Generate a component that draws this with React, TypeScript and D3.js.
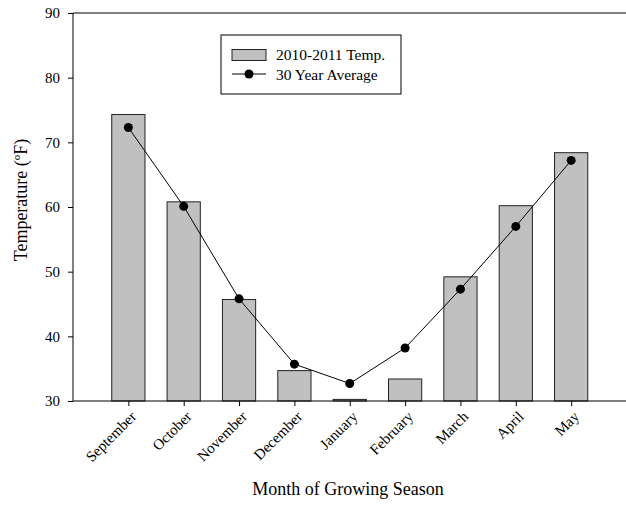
import * as d3 from "d3";
import { useEffect, useRef } from "react";

const months = ["September", "October", "November", "December", "January", "February", "March", "April", "May"];
const temps = [74.3, 60.8, 45.7, 34.7, 30.25, 33.4, 49.2, 60.2, 68.4];
const averages = [72.3, 60.1, 45.8, 35.7, 32.7, 38.2, 47.3, 57.0, 67.2];
const yTicks = [30, 40, 50, 60, 70, 80, 90];

const App = () => {
  const ref = useRef<SVGSVGElement>(null);

  useEffect(() => {
    const width = 626,
      height = 511;
    const left = 73,
      right = 626.5,
      top = 13,
      bottom = 401;
    const font = "'Liberation Serif', 'Times New Roman', serif";

    const svg = d3.select(ref.current);
    svg.selectAll("*").remove();
    svg.attr("width", width).attr("height", height).style("font-family", font);

    const x = d3.scalePoint<string>().domain(months).range([left, right]).padding(1);
    const y = d3.scaleLinear().domain([30, 90]).range([bottom, top]);
    const barW = x.step() * 0.6;

    // bars
    svg
      .append("g")
      .selectAll("rect")
      .data(temps)
      .join("rect")
      .attr("x", (d, i) => x(months[i])! - barW / 2)
      .attr("y", (d) => y(d))
      .attr("width", barW)
      .attr("height", (d) => bottom - y(d))
      .attr("fill", "#c0c0c0")
      .attr("stroke", "#222")
      .attr("stroke-width", 1);

    // top frame line
    svg.append("line").attr("x1", left).attr("x2", width).attr("y1", top).attr("y2", top).attr("stroke", "#000");

    // y axis
    const yAxis = svg
      .append("g")
      .attr("transform", `translate(${left},0)`)
      .call(d3.axisLeft(y).tickValues(yTicks).tickSize(5).tickPadding(8));
    yAxis.attr("font-family", font).attr("font-size", 15);
    yAxis.select(".domain").attr("d", `M0,${top}V${bottom}`);
    yAxis.selectAll("text").attr("fill", "#000");

    // x axis
    const xAxis = svg
      .append("g")
      .attr("transform", `translate(0,${bottom})`)
      .call(d3.axisBottom(x).tickSize(5).tickSizeOuter(0));
    xAxis.attr("font-family", font).attr("font-size", 15);
    xAxis.select(".domain").attr("d", `M${left},0H${width}`);
    xAxis
      .selectAll("text")
      .attr("fill", "#000")
      .attr("text-anchor", "end")
      .attr("transform", "translate(1,9) rotate(-45)")
      .attr("dy", "0.7em")
      .attr("y", 0)
      .attr("x", 0);

    // average line
    const line = d3
      .line<number>()
      .x((d, i) => x(months[i])!)
      .y((d) => y(d));
    svg.append("path").datum(averages).attr("d", line).attr("fill", "none").attr("stroke", "#000").attr("stroke-width", 1);
    svg
      .append("g")
      .selectAll("circle")
      .data(averages)
      .join("circle")
      .attr("cx", (d, i) => x(months[i])!)
      .attr("cy", (d) => y(d))
      .attr("r", 4.5)
      .attr("fill", "#000");

    // legend
    const lg = svg.append("g").style("font-size", "15.5px");
    lg.append("rect").attr("x", 221).attr("y", 35).attr("width", 180).attr("height", 59).attr("fill", "#fff").attr("stroke", "#000");
    lg.append("rect").attr("x", 232).attr("y", 49.5).attr("width", 34).attr("height", 11).attr("fill", "#c0c0c0").attr("stroke", "#222");
    lg.append("text").attr("x", 276).attr("y", 60).text("2010-2011 Temp.");
    lg.append("line").attr("x1", 232).attr("x2", 266).attr("y1", 74).attr("y2", 74).attr("stroke", "#000");
    lg.append("circle").attr("cx", 249).attr("cy", 74).attr("r", 4.5).attr("fill", "#000");
    lg.append("text").attr("x", 276).attr("y", 80).text("30 Year Average");

    // axis titles
    svg
      .append("text")
      .attr("x", 348)
      .attr("y", 495)
      .attr("text-anchor", "middle")
      .style("font-size", "18px")
      .text("Month of Growing Season");

    const yt = svg
      .append("text")
      .attr("transform", "translate(27,200) rotate(-90)")
      .attr("text-anchor", "middle")
      .style("font-size", "18px");
    yt.append("tspan").text("Temperature (");
    yt.append("tspan").attr("dy", "-7").style("font-size", "11px").text("o");
    yt.append("tspan").attr("dy", "7").text("F)");
  }, []);

  return (
    <svg ref={ref} width={626} height={511} style={{ position: "absolute", left: 0, top: 0 }} />
  );
};

export default App;
